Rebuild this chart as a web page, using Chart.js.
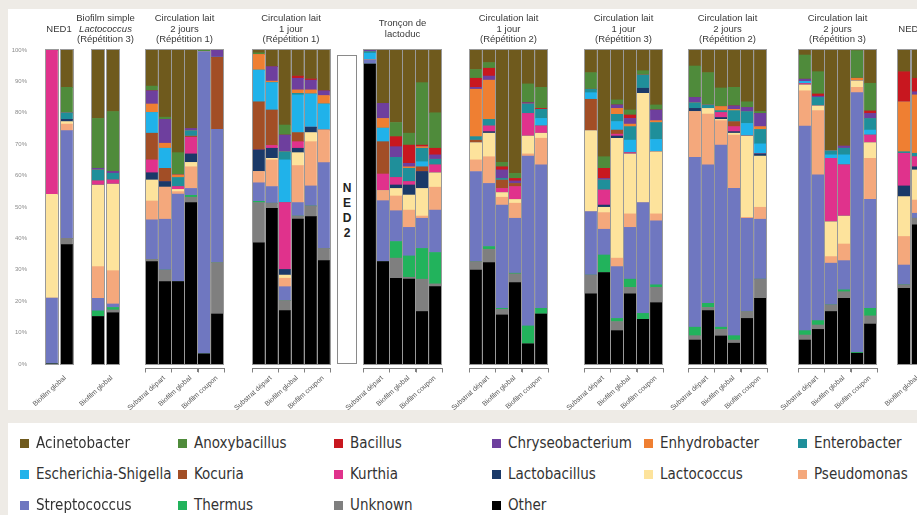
<!DOCTYPE html>
<html lang="fr">
<head>
<meta charset="utf-8">
<title>Composition bactérienne des biofilms</title>
<script src="https://cdn.jsdelivr.net/npm/chart.js@4.4.1/dist/chart.umd.min.js"></script>
<style>
  html, body { margin: 0; padding: 0; }
  body {
    width: 917px; height: 515px; overflow: hidden; position: relative;
    background: #eeebe6; font-family: "Liberation Sans", Arial, sans-serif;
  }
  #plotBox { position: absolute; left: 8px; top: 9px; width: 940px; height: 401px; background: #fff; }
  #legendBox { position: absolute; left: 8px; top: 423px; width: 940px; height: 100px; background: #fff; }
  canvas { position: absolute; }
  #ned2 {
    position: absolute; left: 337px; top: 55px; width: 18px; height: 307px;
    border: 1px solid #8a8a8a; background: #fff;
  }
  #ned2 div {
    position: absolute; left: 0; width: 18px; text-align: center;
    font: 600 12px "Liberation Sans", Arial, sans-serif; color: #222; line-height: 15px;
  }
  .lg-item {
    position: absolute; height: 18px; display: flex; align-items: center; white-space: nowrap;
    font-family: "DejaVu Sans Condensed", "DejaVu Sans", sans-serif; font-stretch: condensed;
    font-size: 15px; color: #333;
  }
  .lg-sw { width: 9px; height: 9px; margin-right: 7px; }
</style>
</head>
<body>
<div id="plotBox"></div>
<div id="legendBox"></div>
<div id="ned2"></div>
<script>
// taxons, dans l'ordre de la légende (empilés du bas vers le haut dans l'ordre inverse)
const taxa = [
  "Acinetobacter", "Anoxybacillus", "Bacillus", "Chryseobacterium", "Enhydrobacter", "Enterobacter",
  "Escherichia-Shigella", "Kocuria", "Kurthia", "Lactobacillus", "Lactococcus", "Pseudomonas",
  "Streptococcus", "Thermus", "Unknown", "Other",
];

const panelTitles = [
  ["NED1"],
  ["Biofilm simple", "Lactococcus", "(Répétition 3)"],
  ["Circulation lait", "2 jours", "(Répétition 1)"],
  ["Circulation lait", "1 jour", "(Répétition 1)"],
  ["Tronçon de", "lactoduc"],
  ["Circulation lait", "1 jour", "(Répétition 2)"],
  ["Circulation lait", "1 jour", "(Répétition 3)"],
  ["Circulation lait", "2 jours", "(Répétition 2)"],
  ["Circulation lait", "2 jours", "(Répétition 3)"],
  ["NED3"],
];
const italicTitleLines = ["Lactococcus"];
const panelBarCounts = [2, 2, 6, 6, 6, 6, 6, 6, 6, 2];
const groupLabels = ["Substrat départ", "Biofilm global", "Biofilm coupon"];
const singleLabel = ["Biofilm global"];

// % d'abondance relative, une valeur par barre (panneaux dans l'ordre)
const acinetobacter = [
  0, 11.9,
  21.8, 19.6,
  11.5, 21.4, 32.7, 25.0, 0, 0,
  0.9, 5.3, 23.9, 8.3, 9.2, 13.0,
  0, 17.0, 23.1, 26.5, 10.4, 20.0,
  6.2, 4.0, 35.8, 39.3, 10.8, 11.9,
  7.2, 34.0, 15.9, 19.2, 6.6, 17.5,
  5.1, 7.2, 12.1, 11.9, 16.5, 19.6,
  1.6, 6.9, 32.1, 30.6, 0.2, 10.6,
  6.9, 9.0,
];
const anoxybacillus = [
  0, 8.1,
  15.9, 19.1,
  1.5, 0.7, 7.1, 0, 0.5, 0,
  0.5, 0, 3.2, 0, 0, 0,
  0, 0, 4.5, 3.8, 19.9, 11.3,
  2.8, 1.8, 1.4, 1.6, 6.0, 6.7,
  5.3, 3.7, 1.6, 1.6, 1.4, 1.6,
  10.0, 10.3, 5.9, 5.9, 1.8, 0.6,
  7.7, 7.1, 0, 0, 8.8, 8.8,
  0, 0,
];
const bacillus = [
  0, 0,
  0, 0,
  0, 0, 0, 0, 0, 0,
  0, 0, 0, 0.7, 0.4, 0,
  0, 0, 3.2, 5.8, 0.5, 2.1,
  2.9, 2.5, 1.0, 0.8, 0, 0.3,
  0, 3.2, 0, 1.1, 0, 0,
  0, 0, 0, 0, 0, 0,
  0, 0.7, 0, 0, 0, 0.8,
  9.6, 4.3,
];
const chryseobacterium = [
  0, 0,
  0.5, 0.6,
  4.2, 7.6, 0, 0.7, 0, 2.3,
  0, 4.6, 5.3, 3.7, 3.1, 1.5,
  0.5, 4.8, 3.4, 1.1, 0, 1.4,
  0.6, 1.3, 2.7, 0.8, 0.4, 0,
  0, 0.5, 1.1, 1.8, 0, 3.4,
  1.7, 0, 0, 1.1, 1.3, 4.2,
  0.7, 0.4, 0, 0.7, 0, 1.6,
  0, 1.0,
];
const enhydrobacter = [
  0, 0,
  0, 0,
  2.7, 1.6, 0.8, 0, 0, 0,
  5.0, 0.5, 0, 1.1, 1.3, 2.7,
  0, 3.1, 0, 0.5, 0.5, 0,
  15.1, 12.5, 0, 0, 0, 0,
  0, 0, 1.9, 0.8, 0, 0.6,
  0, 0, 1.3, 0.4, 0, 0.9,
  0, 0, 0, 0, 0.8, 0,
  15.9, 18.6,
];
const enterobacter = [
  0, 2.1,
  3.5, 2.1,
  0, 0, 2.9, 1.7, 0, 0,
  0, 0, 2.6, 0.5, 0, 0,
  0.5, 0, 6.4, 4.2, 4.3, 1.8,
  1.1, 2.1, 0.5, 0, 3.0, 2.9,
  1.1, 3.2, 2.3, 4.3, 4.2, 5.4,
  1.8, 1.1, 0.6, 3.5, 3.8, 4.6,
  0, 2.7, 1.3, 2.1, 0, 3.7,
  0.5, 1.1,
];
const escherichiaShigella = [
  0, 0,
  0, 0,
  6.6, 6.4, 0, 0, 0, 0,
  10.1, 8.7, 13.6, 12.0, 10.6, 8.3,
  2.2, 4.3, 0, 0, 1.6, 0,
  0, 0, 0, 0, 0, 2.4,
  2.1, 0, 2.7, 4.0, 0, 3.9,
  0, 0, 0, 0, 4.0, 3.2,
  0.7, 0, 1.1, 3.2, 0, 1.6,
  0, 0,
];
const kocuria = [
  0, 0,
  0, 0,
  8.5, 4.2, 0, 0.4, 0, 23.0,
  15.3, 11.3, 0, 2.9, 0, 0,
  0, 10.3, 0, 0, 1.5, 0,
  0.8, 0, 2.7, 1.0, 0, 0,
  10.0, 0, 1.3, 0, 0, 0,
  0, 0, 0, 1.6, 0, 0,
  0, 0, 0, 0, 0, 0,
  0, 0,
];
const kurthia = [
  46.0, 0,
  1.3, 1.3,
  4.1, 0, 0.9, 5.3, 0, 0,
  0, 0.9, 21.3, 2.1, 0, 0,
  0, 5.3, 2.4, 1.1, 0, 2.5,
  0, 1.8, 1.3, 4.1, 7.2, 2.3,
  0, 4.8, 0.6, 0.4, 0, 0,
  0, 0, 1.6, 1.6, 0, 0,
  0.4, 0, 20.2, 16.3, 0, 2.4,
  10.4, 3.2,
];
const lactobacillus = [
  0, 0.7,
  0, 0,
  2.3, 1.8, 0, 2.7, 0, 0,
  6.9, 3.2, 1.8, 1.4, 1.7, 0,
  0, 0, 1.1, 3.2, 5.4, 0,
  0, 0.5, 0, 0, 0, 0,
  0, 0.7, 0.7, 0, 1.6, 0,
  1.0, 0, 0.6, 0.5, 0, 0.7,
  0, 0, 0, 0, 0, 0,
  3.4, 1.0,
];
const lactococcus = [
  33.0, 0.8,
  26.0, 27.6,
  6.7, 0, 0.7, 1.4, 0, 0,
  0, 0.5, 1.0, 4.1, 2.9, 0,
  0, 0, 2.4, 4.8, 8.8, 4.6,
  5.5, 7.5, 1.5, 1.2, 5.7, 1.6,
  25.8, 1.7, 38.2, 19.1, 34.8, 19.8,
  0, 1.8, 0.4, 0.6, 25.9, 16.3,
  1.9, 1.5, 11.1, 8.9, 2.1, 5.0,
  12.7, 9.6,
];
const pseudomonas = [
  0, 2.1,
  10.1, 10.6,
  6.0, 10.2, 0.8, 6.9, 0, 0,
  3.6, 8.5, 2.7, 11.8, 14.1, 10.4,
  0, 3.2, 4.7, 5.5, 0.7, 7.3,
  3.7, 8.5, 2.5, 4.8, 0.7, 8.5,
  0, 5.3, 2.7, 4.3, 0, 2.2,
  14.6, 16.2, 7.8, 17.0, 0.3, 3.8,
  11.2, 20.5, 2.1, 5.3, 1.7, 13.1,
  9.1, 4.2,
];
const streptococcus = [
  21.0, 34.3,
  4.0, 1.1,
  12.6, 16.2, 27.9, 2.2, 96.3, 42.4,
  5.9, 5.3, 4.4, 4.3, 6.4, 27.3,
  1.3, 19.4, 9.8, 9.1, 9.6, 13.5,
  28.7, 20.1, 32.9, 17.5, 54.1, 45.7,
  20.2, 8.2, 16.5, 16.5, 35.3, 20.4,
  54.1, 44.1, 58.0, 46.9, 29.7, 19.1,
  65.2, 46.4, 13.3, 9.3, 82.7, 34.7,
  6.3, 1.6,
];
const thermus = [
  0, 0,
  1.8, 0.8,
  0, 0, 0, 0.6, 0, 0,
  0.4, 0, 0, 0, 0, 0,
  0, 0, 5.3, 6.8, 9.8, 10.0,
  0, 0.9, 0.3, 0.2, 5.7, 1.8,
  0, 5.6, 1.0, 2.6, 1.9, 0.8,
  2.7, 1.3, 0.7, 1.4, 0, 0,
  1.4, 1.4, 0, 0.6, 0.3, 2.4,
  0, 0,
];
const unknown = [
  0, 2.0,
  0, 0.9,
  0.7, 3.7, 0, 1.7, 0, 16.4,
  12.8, 1.6, 3.2, 1.0, 3.4, 3.9,
  0, 0, 6.4, 0.6, 10.3, 0.9,
  2.7, 4.2, 1.8, 2.8, 0, 0,
  6.0, 0, 2.9, 2.1, 0, 4.9,
  1.4, 1.0, 2.1, 1.0, 2.2, 6.1,
  1.6, 1.4, 2.1, 2.1, 0, 2.6,
  1.1, 2.1,
];
const other = [
  0, 38.0,
  15.1, 16.3,
  32.6, 26.2, 26.2, 51.4, 3.2, 15.9,
  38.6, 49.6, 17.0, 46.1, 46.9, 32.9,
  95.5, 32.6, 27.3, 27.0, 16.7, 24.6,
  29.9, 32.3, 15.6, 25.9, 6.4, 15.9,
  22.3, 29.1, 10.6, 22.3, 14.2, 19.5,
  7.6, 17.0, 8.9, 6.6, 14.5, 20.9,
  7.6, 11.0, 16.7, 20.9, 3.4, 12.7,
  24.1, 44.3,
];

const taxonValues = [
  acinetobacter, anoxybacillus, bacillus, chryseobacterium, enhydrobacter, enterobacter,
  escherichiaShigella, kocuria, kurthia, lactobacillus, lactococcus, pseudomonas,
  streptococcus, thermus, unknown, other,
];

// styles
const taxonColors = [
  "#6f5a1d", "#4f8b3b", "#c8171f", "#6e3f9e", "#ef7f32", "#1f8f9a",
  "#20b2ea", "#a24e26", "#e0328c", "#1a3968", "#fde39c", "#f4a87c",
  "#6f77c0", "#22b35c", "#7f7f7f", "#000000",
];

// mise en page (px)
const panelAreaLeft = [44, 91, 145, 252, 363, 469, 584, 688, 798, 897];
const panelAreaWidth = [30, 29, 79, 78, 79, 79, 79, 79, 79, 28];
const legendColumnX = [20, 178, 334, 492, 644, 798];
const legendRowY = [443, 474, 505];

Chart.defaults.font.family = '"Liberation Sans", Arial, sans-serif';

const panelTitle = {
  id: "panelTitle",
  afterDraw(chart, args, opts) {
    const { ctx, chartArea } = chart;
    const lines = opts.lines || [];
    const cx = (chartArea.left + chartArea.right) / 2;
    ctx.save();
    ctx.fillStyle = "#383838";
    ctx.textAlign = "center";
    ctx.textBaseline = "middle";
    lines.forEach((line, i) => {
      const italic = italicTitleLines.includes(line) ? "italic " : "";
      ctx.font = italic + '9.5px "Liberation Sans", Arial, sans-serif';
      ctx.fillText(line, cx, 19 + (i - (lines.length - 1) / 2) * 10.5);
    });
    ctx.restore();
  },
};

// contour gris de chaque barre empilée
const barOutline = {
  id: "barOutline",
  afterDatasetsDraw(chart) {
    const { ctx } = chart;
    const y = chart.scales.y;
    const top = y.getPixelForValue(100);
    const bottom = y.getPixelForValue(0);
    ctx.save();
    ctx.strokeStyle = "#999999";
    ctx.lineWidth = 1;
    chart.getDatasetMeta(0).data.forEach((bar) => {
      const l = Math.round(bar.x - bar.width / 2) - 0.5;
      const r = Math.round(bar.x + bar.width / 2) + 0.5;
      ctx.strokeRect(l, Math.round(top) - 0.5, r - l, Math.round(bottom - top) + 1);
    });
    ctx.restore();
  },
};

// ligne de l'axe des groupes, avec une petite graduation entre chaque groupe
const groupAxisLine = {
  id: "groupAxisLine",
  afterDraw(chart, args, opts) {
    if (!opts.show) return;
    const s = chart.scales.x2;
    const { ctx, chartArea } = chart;
    const y = Math.round(chartArea.bottom) + 0.5;
    const step = s.getPixelForTick(1) - s.getPixelForTick(0);
    ctx.save();
    ctx.strokeStyle = "#808080";
    ctx.lineWidth = 1;
    ctx.beginPath();
    ctx.moveTo(Math.round(chartArea.left), y);
    ctx.lineTo(Math.round(chartArea.right), y);
    for (let i = 0; i <= s.ticks.length; i++) {
      const x = Math.round(s.getPixelForTick(0) - step / 2 + i * step) + 0.5;
      ctx.moveTo(x, y);
      ctx.lineTo(x, y + 4);
    }
    ctx.stroke();
    ctx.restore();
  },
};

// l'axe des groupes garde une hauteur fixe et ne réclame pas de marge latérale
function fixGroupAxis(s) {
  s.height = 42;
  s.paddingLeft = 0;
  s.paddingRight = 0;
  s.paddingTop = 0;
  s.paddingBottom = 0;
}

let start = 0;
panelTitles.forEach((title, p) => {
  const n = panelBarCounts[p];
  const end = start + n;
  const withY = p === 0;
  const grouped = n === 6;

  const canvas = document.createElement("canvas");
  canvas.width = panelAreaWidth[p] + 80;
  canvas.height = 400;
  canvas.style.left = panelAreaLeft[p] - 60 + "px";
  canvas.style.top = "10px";
  document.body.appendChild(canvas);

  const labels = Array.from({ length: n }, (_, i) => title[0] + " " + (i + 1));
  const datasets = taxa
    .map((name, t) => ({
      label: name,
      data: taxonValues[t].slice(start, end),
      backgroundColor: taxonColors[t],
      borderWidth: 0,
      barThickness: 12,
    }))
    .reverse();

  new Chart(canvas, {
    type: "bar",
    data: { labels, datasets },
    plugins: [panelTitle, barOutline, groupAxisLine],
    options: {
      responsive: false,
      animation: false,
      devicePixelRatio: 1,
      layout: { padding: { top: 40, left: withY ? 20 : 60, right: 20, bottom: 0 } },
      plugins: {
        legend: { display: false },
        tooltip: { enabled: false },
        panelTitle: { lines: title },
        groupAxisLine: { show: grouped },
      },
      scales: {
        x: { display: false, stacked: true },
        x2: {
          type: "category",
          labels: grouped ? groupLabels : singleLabel,
          position: "bottom",
          offset: true,
          afterFit: fixGroupAxis,
          border: { display: grouped, color: "#808080", z: 1 },
          grid: {
            display: grouped, offset: true, drawOnChartArea: false,
            drawTicks: true, tickLength: 4, color: "#808080", z: 1,
          },
          ticks: {
            autoSkip: false, minRotation: 42, maxRotation: 42,
            font: { size: 7 }, color: "#555", padding: 2, labelOffset: 6,
          },
        },
        y: {
          stacked: true,
          min: -1.3, // l'axe des groupes est un peu sous la base des barres
          max: 100,
          display: withY,
          afterFit: (s) => {
            if (!withY) return;
            s.width = 40;
            s.paddingTop = 0;
            s.paddingBottom = 0;
          },
          grid: { display: false, drawTicks: false },
          border: { display: false },
          ticks: {
            stepSize: 10,
            includeBounds: false,
            callback: (v) => v + "%",
            font: { size: 6 },
            color: "#8c8c8c",
            padding: 17,
          },
        },
      },
    },
  });
  start = end;
});

// boîte NED2
const ned2 = document.getElementById("ned2");
["N", "E", "D", "2"].forEach((ch, i) => {
  const d = document.createElement("div");
  d.textContent = ch;
  d.style.top = 125 + i * 15 + "px";
  ned2.appendChild(d);
});

// légende
taxa.forEach((name, i) => {
  const item = document.createElement("div");
  item.className = "lg-item";
  item.style.left = legendColumnX[i % 6] + "px";
  item.style.top = legendRowY[Math.floor(i / 6)] - 9 + "px";
  const sw = document.createElement("span");
  sw.className = "lg-sw";
  sw.style.background = taxonColors[i];
  const tx = document.createElement("span");
  tx.textContent = name;
  item.appendChild(sw);
  item.appendChild(tx);
  document.body.appendChild(item);
});
</script>
</body>
</html>
